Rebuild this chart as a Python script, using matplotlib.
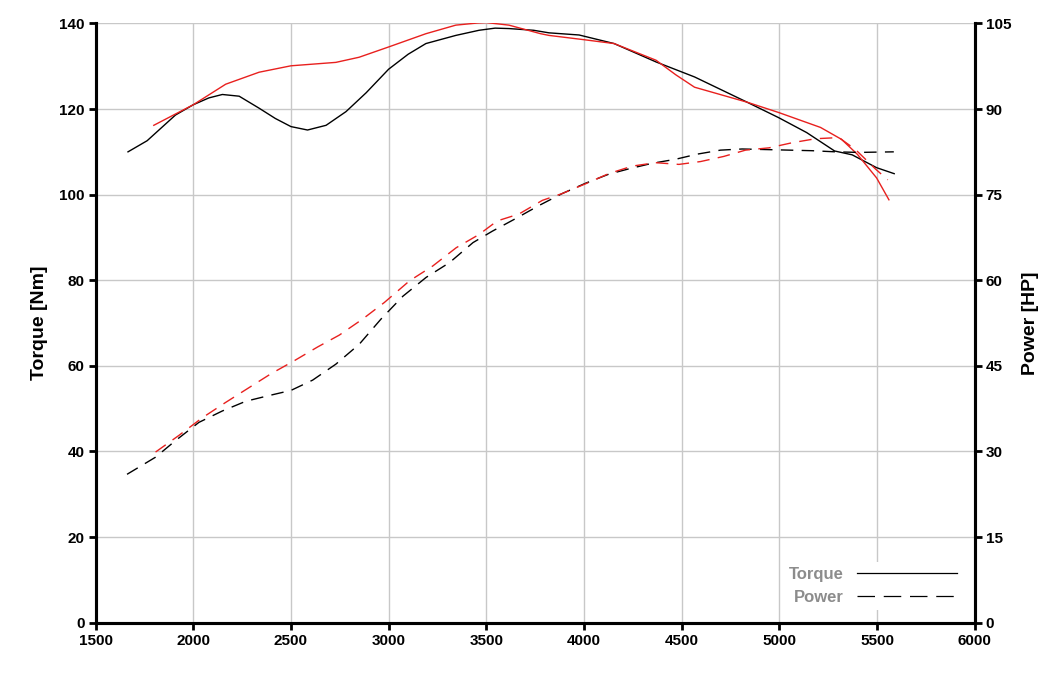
import matplotlib.pyplot as plt
from matplotlib.lines import Line2D

plt.rcParams['font.family'] = ['Liberation Sans', 'DejaVu Sans']

# torque curves [Nm]
rpm_tq_black = [1666, 1764, 1909, 2000, 2080, 2149, 2235, 2337, 2420, 2500, 2585, 2680, 2782, 2885, 3000,
                3100, 3191, 3344, 3463, 3545, 3616, 3742, 3821, 3975, 4154, 4369, 4566, 4835, 4996,
                5140, 5283, 5373, 5498, 5588]
tq_black = [110.0, 112.6, 118.6, 121.0, 122.6, 123.4, 123.0, 120.2, 117.8, 115.9, 115.1, 116.2, 119.4, 123.8, 129.3,
            132.8, 135.3, 137.2, 138.4, 138.9, 138.8, 138.4, 137.8, 137.3, 135.3, 131.0, 127.5, 121.6, 118.0,
            114.5, 110.2, 109.3, 106.3, 104.9]

rpm_tq_red = [1798, 2000, 2166, 2337, 2500, 2730, 2849, 3000, 3191, 3344, 3455, 3500, 3616,
              3778, 3821, 4000, 4154, 4369, 4470, 4566, 4835, 4996, 5211, 5319, 5400, 5498, 5561]
tq_red = [116.2, 121.0, 125.8, 128.6, 130.1, 130.9, 132.1, 134.5, 137.6, 139.6, 140.1, 140.2, 139.6,
          137.6, 137.2, 136.2, 135.3, 131.4, 128.0, 125.1, 121.6, 119.2, 115.7, 112.9, 109.4, 103.9, 98.8]

# power curves [HP]
rpm_pw_black = [1661, 1807, 1909, 2029, 2149, 2269, 2388, 2500, 2611, 2730, 2850, 2961, 3073,
                3192, 3312, 3432, 3531, 3650, 3770, 3889, 4008, 4128, 4239, 4350, 4469, 4580,
                4699, 4810, 4930, 5049, 5168, 5288, 5407, 5586]
pw_black = [26.0, 29.0, 31.9, 35.1, 37.1, 38.8, 39.8, 40.7, 42.5, 45.3, 48.8, 53.2, 57.2,
            60.5, 63.1, 66.6, 68.6, 70.8, 73.1, 75.2, 77.0, 78.6, 79.6, 80.5, 81.2, 82.1,
            82.8, 83.0, 82.9, 82.8, 82.7, 82.5, 82.4, 82.5]

rpm_pw_red = [1807, 1926, 2046, 2166, 2286, 2397, 2517, 2636, 2748, 2867, 2978, 3107, 3226,
              3346, 3462, 3556, 3667, 3787, 3889, 4008, 4128, 4247, 4367, 4486, 4597, 4716,
              4827, 4947, 5066, 5186, 5305, 5390, 5492, 5555]
pw_red = [29.9, 32.8, 35.9, 38.6, 41.2, 43.6, 45.9, 48.3, 50.4, 53.2, 56.1, 59.9, 62.5,
          65.7, 68.0, 70.4, 71.6, 74.0, 75.2, 76.9, 78.7, 80.0, 80.6, 80.3, 80.8, 81.7,
          82.8, 83.2, 84.1, 84.8, 85.0, 82.9, 79.5, 77.6]

RED = '#e8201e'
DASH = (9, 6)

fig = plt.figure(figsize=(10.56, 6.81), dpi=100)
ax = fig.add_axes([0.0905, 0.0856, 0.8325, 0.880])
ax2 = ax.twinx()

ax.plot(rpm_tq_black, tq_black, color='black', lw=1.0)
ax.plot(rpm_tq_red, tq_red, color=RED, lw=1.0)
ax2.plot(rpm_pw_black, pw_black, color='black', lw=1.0, dashes=DASH)
ax2.plot(rpm_pw_red, pw_red, color=RED, lw=1.0, dashes=DASH)

ax.set_xlim(1500, 6000)
ax.set_ylim(0, 140)
ax2.set_ylim(0, 105)
ax.set_xticks(range(1500, 6001, 500))
ax.set_yticks(range(0, 141, 20))
ax2.set_yticks(range(0, 106, 15))

ax.grid(True, color='#c8c8c8', lw=1.0)
ax.set_axisbelow(True)

for a in (ax, ax2):
    a.spines['top'].set_visible(False)
    for s in ('left', 'right', 'bottom'):
        a.spines[s].set_linewidth(2.2)
    a.tick_params(width=2, length=5, labelsize=11, pad=3)
    for lab in a.get_xticklabels() + a.get_yticklabels():
        lab.set_fontweight('bold')

ax.set_ylabel('Torque [Nm]', fontsize=14, fontweight='bold', labelpad=8)
ax2.set_ylabel('Power [HP]', fontsize=14, fontweight='bold', labelpad=8)

handles = [Line2D([], [], color='black', lw=0.9),
           Line2D([], [], color='black', lw=0.9, dashes=(14, 7))]
leg = ax2.legend(handles, ['Torque', 'Power'], loc='lower right', bbox_to_anchor=(0.995, 0.008),
                 markerfirst=False, frameon=True, edgecolor='none', facecolor='white',
                 framealpha=1, handlelength=6.0, labelspacing=0.45, borderpad=0.3,
                 prop={'weight': 'bold', 'size': 12})
for t in leg.get_texts():
    t.set_color('#8c8c8c')

fig.savefig('out.png', dpi=100)
